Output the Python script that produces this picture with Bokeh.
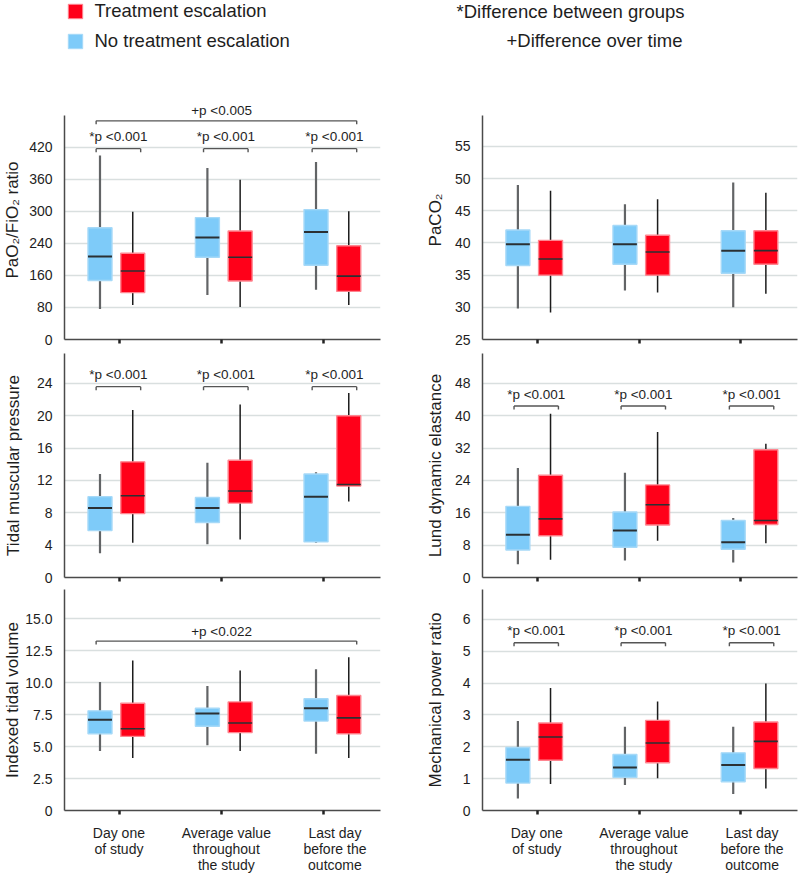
import numpy as np
from bokeh.plotting import figure
from bokeh.layouts import column, row
from bokeh.models import (FixedTicker, Range1d, Label, Legend, LegendItem,
                          ColumnDataSource, LinearAxis)
from bokeh.embed import file_html
from bokeh.resources import INLINE

# ---------------------------------------------------------------- data
CATEGORIES = ["Day one\nof study", "Average value\nthroughout\nthe study", "Last day\nbefore the\noutcome"]
SERIES = ["Treatment escalation", "No treatment escalation"]

# box statistics per category: (lower whisker, Q1, median, Q3, upper whisker)
PAO2_ESC = [(86, 117, 171, 215, 299), (81, 146, 205, 263, 359), (86, 120, 158, 234, 300)]
PAO2_NO = [(76, 147, 207, 269, 404), (111, 205, 251, 288, 381), (124, 185, 261, 303, 392)]
PACO2_ESC = [(29.2, 35.0, 37.5, 40.4, 48.1), (32.3, 35.0, 38.6, 41.2, 46.8), (32.1, 36.7, 38.8, 41.9, 47.8)]
PACO2_NO = [(29.8, 36.5, 39.8, 42.0, 49.0), (32.6, 36.7, 39.8, 42.7, 46.0), (30.0, 35.3, 38.8, 41.9, 49.4)]
TMP_ESC = [(4.3, 7.9, 10.1, 14.3, 20.7), (4.7, 9.2, 10.7, 14.5, 21.4), (9.4, 11.3, 11.5, 20.0, 22.8)]
TMP_NO = [(3.0, 5.8, 8.6, 10.0, 12.8), (4.1, 6.8, 8.6, 9.9, 14.2), (4.3, 4.4, 10.0, 12.8, 13.0)]
LDE_ESC = [(4.4, 10.3, 14.5, 25.3, 40.5), (9.1, 13.0, 18.0, 22.9, 36.0), (8.5, 13.1, 14.1, 31.6, 33.1)]
LDE_NO = [(3.3, 6.8, 10.6, 17.6, 27.1), (4.2, 7.5, 11.6, 16.2, 25.9), (3.7, 7.0, 8.7, 14.1, 14.7)]
ITV_ESC = [(4.1, 5.8, 6.4, 8.4, 11.75), (4.65, 6.1, 6.85, 8.5, 10.95), (4.1, 6.0, 7.25, 9.0, 12.0)]
ITV_NO = [(4.65, 6.0, 7.1, 7.8, 10.05), (5.1, 6.6, 7.6, 8.0, 9.75), (4.45, 7.0, 8.0, 8.75, 11.05)]
MPR_ESC = [(0.83, 1.58, 2.31, 2.75, 3.85), (1.01, 1.50, 2.12, 2.83, 3.42), (0.69, 1.32, 2.17, 2.78, 3.99)]
MPR_NO = [(0.38, 0.86, 1.59, 1.98, 2.81), (0.80, 1.04, 1.35, 1.76, 2.63), (0.52, 0.90, 1.43, 1.81, 2.63)]

# y-axis ticks (the PaO2/FiO2 axis labels are evenly spaced in the original)
PAO2_TICKS = [0, 80, 160, 240, 300, 360, 420]
PACO2_TICKS = [25, 30, 35, 40, 45, 50, 55]
TMP_TICKS = [0, 4, 8, 12, 16, 20, 24]
LDE_TICKS = [0, 8, 16, 24, 32, 40, 48]
ITV_TICKS = [0, 2.5, 5.0, 7.5, 10.0, 12.5, 15.0]
ITV_TICK_LABELS = ["0", "2.5", "5.0", "7.5", "10.0", "12.5", "15.0"]
MPR_TICKS = [0, 1, 2, 3, 4, 5, 6]

# significance annotations: (text, bracket level in data units)
PAO2_STAR = ("*p <0.001", 417)
PAO2_PLUS = ("+p <0.005", 469)
TMP_STAR = ("*p <0.001", 23.6)
LDE_STAR = ("*p <0.001", 42.4)
ITV_PLUS = ("+p <0.022", 13.26)
MPR_STAR = ("*p <0.001", 5.27)

# ---------------------------------------------------------------- style / layout
FONT = "Liberation Sans"
BLUE_FILL, BLUE_LINE = "#7ecbf9", "#a6d9f8"
RED_FILL, RED_LINE = "#ff0019", "#ff8590"
BLUE_WHISK, RED_WHISK = "#626466", "#1c1c1c"
MED_C = "#2b3033"
AXIS_C = "#4a4a4a"
GRID_C = "#d9dfdf"
BRK_C = "#555555"
TXT_C = "#1e1e1e"

X_START, X_END = 0.456, 3.563
GROUP_X = [0.966, 2.022, 3.09]
BOX_OFF, BOX_W = 0.161, 0.236
BRK_SHIFT, BRK_HALF = 0.02, 0.219
LEFT_DIMS = (64, 316, 41)      # border left, frame width, border right
RIGHT_DIMS = (61, 315, 3)
LABEL_DIST = {True: 33, False: 29}
ROW_DIMS = [(224, 15, 14), (224, 0, 12), (222, 0, 64)]   # axis px, extra top px, bottom px


def label_width(s, size=14):
    w = {".": 0.278}
    return sum(w.get(c, 0.556) for c in s) * size


def make_panel(ylabel, ticks, tick_labels, y_top, esc, no, star=None, plus=None,
               to_plot=None, left=True, row_i=0):
    if to_plot is None:
        to_plot = lambda v: np.asarray(v, dtype=float)
    bl, fw, br = LEFT_DIMS if left else RIGHT_DIMS
    axis_px, extra_px, bb = ROW_DIMS[row_i]
    y0 = float(to_plot(ticks[0]))
    y1 = float(to_plot(y_top))
    upp = (y1 - y0) / axis_px
    p = figure(width=bl + fw + br, height=axis_px + extra_px + bb,
               output_backend="svg", toolbar_location=None, tools="",
               x_range=Range1d(X_START, X_END),
               y_range=Range1d(y0, y1 + extra_px * upp),
               min_border_left=bl, min_border_right=br,
               min_border_top=0, min_border_bottom=bb,
               outline_line_color=None, background_fill_color="white",
               border_fill_color="white")
    p.xgrid.visible = False
    tick_pos = [float(to_plot(t)) for t in ticks]
    p.yaxis.ticker = FixedTicker(ticks=tick_pos)
    p.ygrid.ticker = FixedTicker(ticks=tick_pos)
    p.yaxis.major_label_overrides = {tp: lab for tp, lab in zip(tick_pos, tick_labels)}
    p.ygrid.grid_line_color = GRID_C
    p.ygrid.grid_line_width = 1.4

    ya = p.yaxis[0]
    ya.bounds = (y0, y1)
    ya.axis_label = ylabel
    ya.axis_label_text_font = FONT
    ya.axis_label_text_font_size = "17px"
    ya.axis_label_text_font_style = "normal"
    ya.axis_label_text_color = TXT_C
    ya.major_label_text_font = FONT
    ya.major_label_text_font_size = "14px"
    ya.major_label_text_color = TXT_C
    ya.major_label_standoff = 6
    ya.major_tick_line_color = None
    ya.minor_tick_line_color = None
    ya.axis_line_color = AXIS_C
    ya.axis_line_width = 1.5
    ya.axis_label_standoff = int(round(LABEL_DIST[left] - 6 - max(label_width(s) for s in tick_labels)))

    xa = p.xaxis[0]
    xa.ticker = FixedTicker(ticks=[1, 2, 3])
    xa.major_label_text_color = None
    xa.major_label_text_font_size = "1px"
    xa.major_label_standoff = 0
    xa.major_tick_out = 4
    xa.major_tick_in = 0
    xa.major_tick_line_width = 2.5
    xa.major_tick_line_color = "#222222"
    xa.minor_tick_line_color = None
    xa.axis_line_color = AXIS_C
    xa.axis_line_width = 1.5

    xs = np.array(GROUP_X)
    for stats, off, fill, line, wc, wl, ml in (
            (no, -BOX_OFF, BLUE_FILL, BLUE_LINE, BLUE_WHISK, 2.2, 2.0),
            (esc, BOX_OFF, RED_FILL, RED_LINE, RED_WHISK, 1.5, 1.6)):
        arr = to_plot(np.array(stats, dtype=float))
        src = ColumnDataSource(dict(
            x=xs + off, xl=xs + off - BOX_W / 2, xr=xs + off + BOX_W / 2,
            lo=arr[:, 0], q1=arr[:, 1], med=arr[:, 2], q3=arr[:, 3], hi=arr[:, 4]))
        p.segment("x", "lo", "x", "hi", source=src, line_color=wc, line_width=wl)
        p.vbar(x="x", width=BOX_W, bottom="q1", top="q3", source=src,
               fill_color=fill, line_color=line, line_width=1.4)
        p.segment("xl", "med", "xr", "med", source=src, line_color=MED_C, line_width=ml)

    drop = 3.5 * upp

    def bracket(a, b, yb, text, off, tx):
        p.segment(x0=[a, a, b], y0=[yb, yb, yb], x1=[b, a, b], y1=[yb, yb - drop, yb - drop],
                  line_color=BRK_C, line_width=1.4)
        p.add_layout(Label(x=tx, y=yb, y_offset=off, text=text,
                           text_align="center", text_baseline="middle",
                           text_font=FONT, text_font_size="13.5px", text_color=TXT_C))

    if star is not None:
        text, yb = star
        yb = float(to_plot(yb))
        for gx in GROUP_X:
            c = gx + BRK_SHIFT
            bracket(c - BRK_HALF, c + BRK_HALF, yb, text, 12, c)
    if plus is not None:
        text, yb = plus
        yb = float(to_plot(yb))
        a = GROUP_X[0] + BRK_SHIFT - BRK_HALF
        b = GROUP_X[2] + BRK_SHIFT + BRK_HALF
        bracket(a, b, yb, text, 10, 2.0)

    if row_i == 2:
        cat_pos = [gx + 0.025 for gx in GROUP_X]
        cat_axis = LinearAxis(ticker=FixedTicker(ticks=cat_pos),
                              major_label_overrides={c: t for c, t in zip(cat_pos, CATEGORIES)},
                              axis_line_color=None, major_tick_line_color=None,
                              minor_tick_line_color=None, major_label_standoff=4,
                              major_label_text_font=FONT, major_label_text_font_size="14px",
                              major_label_text_color=TXT_C,
                              major_label_text_line_height=1.0)
        p.add_layout(cat_axis, "below")
    return p


pao2_pos = lambda v: np.interp(v, PAO2_TICKS + [480], np.arange(8.0))

p1 = make_panel("PaO₂/FiO₂ ratio", PAO2_TICKS, [str(t) for t in PAO2_TICKS], 479,
                PAO2_ESC, PAO2_NO, star=PAO2_STAR, plus=PAO2_PLUS, to_plot=pao2_pos,
                left=True, row_i=0)
p2 = make_panel("PaCO₂", PACO2_TICKS, [str(t) for t in PACO2_TICKS], 59.8,
                PACO2_ESC, PACO2_NO, left=False, row_i=0)
p3 = make_panel("Tidal muscular pressure", TMP_TICKS, [str(t) for t in TMP_TICKS], 27.7,
                TMP_ESC, TMP_NO, star=TMP_STAR, left=True, row_i=1)
p4 = make_panel("Lund dynamic elastance", LDE_TICKS, [str(t) for t in LDE_TICKS], 55.4,
                LDE_ESC, LDE_NO, star=LDE_STAR, left=False, row_i=1)
p5 = make_panel("Indexed tidal volume", ITV_TICKS, ITV_TICK_LABELS, 17.3,
                ITV_ESC, ITV_NO, plus=ITV_PLUS, left=True, row_i=2)
p6 = make_panel("Mechanical power ratio", MPR_TICKS, [str(t) for t in MPR_TICKS], 6.94,
                MPR_ESC, MPR_NO, star=MPR_STAR, left=False, row_i=2)

# ---------------------------------------------------------------- header (legend + notes)
HDR_H = 100
hdr = figure(width=800, height=HDR_H, output_backend="svg", toolbar_location=None, tools="",
             x_range=Range1d(0, 1), y_range=Range1d(0, 1), x_axis_type=None, y_axis_type=None,
             outline_line_color=None, min_border=0, background_fill_color="white",
             border_fill_color="white")
hdr.grid.visible = False
# legend proxies, placed outside the visible range
r_red = hdr.vbar(x=[5], top=[1], bottom=[0], width=0.1,
                 fill_color=RED_FILL, line_color=RED_LINE, line_width=1)
r_blue = hdr.vbar(x=[5], top=[1], bottom=[0], width=0.1,
                  fill_color=BLUE_FILL, line_color=BLUE_LINE, line_width=1)
legend = Legend(items=[LegendItem(label=SERIES[0], renderers=[r_red]),
                       LegendItem(label=SERIES[1], renderers=[r_blue])],
                location=(65.5, HDR_H - 52), orientation="vertical", padding=0, margin=0,
                spacing=8, glyph_width=18, glyph_height=18, label_height=18,
                label_standoff=11, label_text_font=FONT, label_text_font_size="18.5px",
                label_text_color=TXT_C, border_line_color=None, background_fill_alpha=0)
hdr.add_layout(legend)
hdr.add_layout(Label(x=684, y=HDR_H - 10.5, x_units="screen", y_units="screen",
                     text="*Difference between groups", text_align="right",
                     text_baseline="middle", text_font=FONT, text_font_size="18.5px",
                     text_color=TXT_C))
hdr.add_layout(Label(x=682, y=HDR_H - 40, x_units="screen", y_units="screen",
                     text="+Difference over time", text_align="right",
                     text_baseline="middle", text_font=FONT, text_font_size="18.5px",
                     text_color=TXT_C))

layout = column(hdr, row(p1, p2), row(p3, p4), row(p5, p6))
open("out.html", "w").write(file_html(layout, INLINE))
